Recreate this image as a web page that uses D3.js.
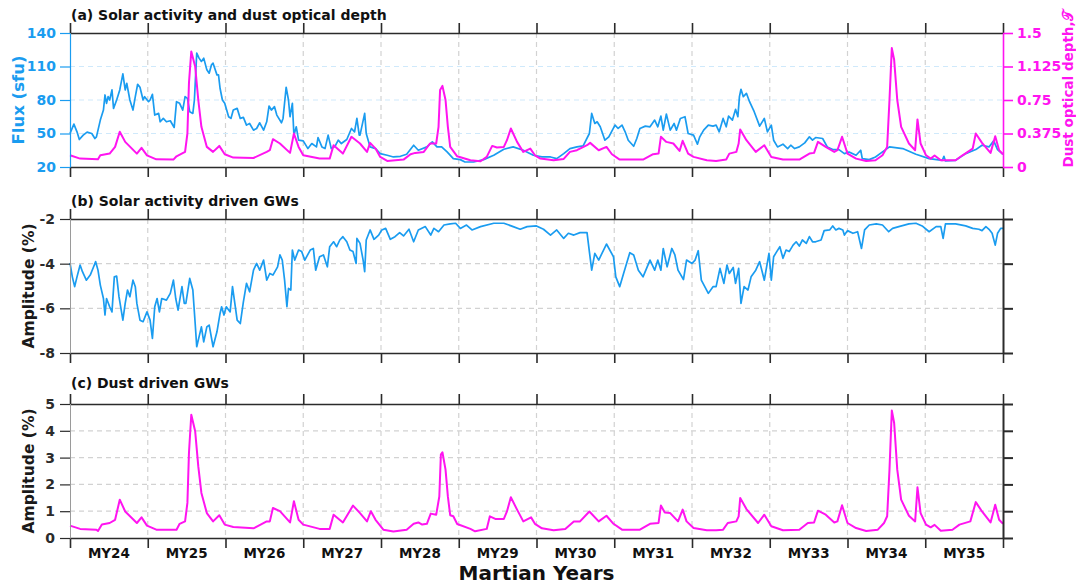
<!DOCTYPE html>
<html>
<head>
<meta charset="utf-8">
<script src="https://cdn.jsdelivr.net/npm/d3@7/dist/d3.min.js"></script>
<style>
  html, body { margin: 0; padding: 0; background: #fff; }
  svg { display: block; font-family: "DejaVu Sans", sans-serif; }
</style>
</head>
<body>
<script>
// ---- Data: [Martian Year, value] ----
const fluxSeries = [
  [24.00,50],[24.05,58.4],[24.09,51.5],[24.12,44.6],[24.17,48.5],[24.22,51.2],[24.28,50],[24.32,45.5],[24.34,47],
  [24.39,62],[24.43,71],[24.45,84.5],[24.47,77],[24.49,83],[24.51,80],[24.54,89],[24.56,72.5],[24.60,80],[24.64,89],
  [24.68,103.4],[24.71,89],[24.73,95],[24.77,80],[24.81,71],[24.84,83],[24.87,94.1],[24.90,91.4],[24.94,80],[24.96,83],
  [25.01,78.5],[25.03,80],[25.06,85.1],[25.09,66.5],[25.14,68],[25.16,60.5],[25.20,63.5],[25.24,60.5],[25.29,61.4],
  [25.34,55.4],[25.37,78.5],[25.41,77],[25.45,71],[25.48,83],[25.51,81.5],[25.54,69.5],[25.58,68],[25.60,80],
  [25.63,122],[25.66,117.5],[25.69,114.5],[25.72,117.5],[25.76,107],[25.79,104],[25.82,111.5],[25.84,113],
  [25.89,102.5],[25.91,102.5],[25.93,90.5],[25.96,80],[25.99,77],[26.04,65],[26.07,63.5],[26.10,71],[26.15,72.5],
  [26.19,63.5],[26.23,64.4],[26.27,57.5],[26.31,59],[26.36,53],[26.40,54.5],[26.44,59.6],[26.49,53],[26.53,60.5],
  [26.56,74.6],[26.59,71],[26.63,74],[26.66,66.5],[26.72,59.6],[26.74,63.5],[26.78,91.4],[26.81,80],[26.83,65],
  [26.86,77],[26.88,48.5],[26.91,56],[26.94,44],[27.00,43.4],[27.06,36.5],[27.11,41],[27.17,38],[27.19,46.4],
  [27.24,38],[27.28,36.5],[27.32,48.5],[27.36,36.5],[27.41,38.6],[27.45,44],[27.49,41],[27.56,44.6],[27.62,54.5],
  [27.66,51.5],[27.69,63.5],[27.72,48.5],[27.73,48.5],[27.79,68],[27.81,50],[27.86,38],[27.93,36.5],[27.99,32],
  [28.08,30.5],[28.16,29],[28.25,29.6],[28.33,31.4],[28.42,39.5],[28.48,35],[28.59,38],[28.66,42.5],[28.72,38],
  [28.78,38],[28.85,33.5],[28.93,27.5],[29.02,26.6],[29.08,24.5],[29.19,24.5],[29.32,26.6],[29.45,30.5],[29.58,35.9],
  [29.70,38],[29.83,35],[29.96,30.5],[30.07,29],[30.18,29],[30.26,27.5],[30.35,32],[30.43,36.5],[30.52,38],
  [30.60,38.9],[30.68,50],[30.71,68],[30.75,59],[30.78,60.5],[30.82,56],[30.88,44],[30.93,47],[31.01,57.5],
  [31.05,54.5],[31.10,57.5],[31.14,51.5],[31.18,44],[31.25,38.6],[31.29,45.5],[31.33,54.5],[31.40,56.6],[31.46,56],
  [31.52,62],[31.56,56],[31.60,65.6],[31.63,53],[31.67,67.4],[31.72,53],[31.77,59],[31.80,53],[31.85,63.5],
  [31.91,65],[31.95,50],[32.02,48.5],[32.07,40.4],[32.10,47],[32.15,53],[32.21,57.5],[32.27,56.6],[32.31,57.5],
  [32.35,51.5],[32.40,63.5],[32.44,56],[32.47,65.6],[32.52,62],[32.56,71.6],[32.59,65],[32.61,83],[32.63,89.6],
  [32.66,83],[32.70,86],[32.74,78.5],[32.80,69.5],[32.87,56.6],[32.93,63.5],[32.97,51.5],[33.02,57.5],[33.05,44],
  [33.10,38],[33.17,40.4],[33.23,36.5],[33.27,39.5],[33.32,36.5],[33.38,38],[33.45,41.6],[33.51,47],[33.55,44],
  [33.59,46.4],[33.68,45.5],[33.74,38],[33.81,35.6],[33.89,35.6],[33.96,32],[34.02,33.5],[34.11,30.5],[34.17,35],
  [34.19,27.5],[34.28,26.6],[34.36,29],[34.45,33.5],[34.54,38],[34.71,36.5],[34.88,31.4],[35.05,27.5],[35.22,26],
  [35.24,29.6],[35.26,25.4],[35.39,26],[35.52,32],[35.65,35.6],[35.73,39.5],[35.82,38],[35.88,43.4],[35.93,35.6],
  [36.00,31.4]
];

const tauSeries = [
  [24.00,0.131],[24.13,0.094],[24.36,0.086],[24.39,0.131],[24.51,0.15],[24.58,0.225],[24.64,0.394],[24.71,0.281],
  [24.86,0.15],[24.92,0.214],[24.99,0.131],[25.11,0.086],[25.33,0.083],[25.37,0.12],[25.48,0.169],[25.51,0.375],
  [25.53,0.94],[25.56,1.294],[25.61,1.125],[25.65,0.75],[25.69,0.45],[25.76,0.225],[25.84,0.169],[25.92,0.236],
  [25.99,0.143],[26.10,0.105],[26.36,0.101],[26.53,0.169],[26.57,0.188],[26.61,0.311],[26.70,0.263],[26.83,0.158],
  [26.88,0.375],[26.94,0.225],[27.00,0.131],[27.21,0.094],[27.34,0.094],[27.39,0.244],[27.51,0.15],[27.62,0.338],
  [27.73,0.263],[27.82,0.169],[27.86,0.27],[27.93,0.206],[27.99,0.113],[28.08,0.068],[28.29,0.083],[28.38,0.143],
  [28.44,0.158],[28.55,0.169],[28.63,0.263],[28.71,0.263],[28.74,0.45],[28.76,0.863],[28.79,0.908],[28.83,0.75],
  [28.86,0.45],[28.89,0.225],[28.98,0.12],[29.15,0.075],[29.28,0.064],[29.36,0.113],[29.43,0.236],[29.49,0.218],
  [29.58,0.225],[29.62,0.30],[29.67,0.431],[29.75,0.281],[29.83,0.169],[29.92,0.206],[29.98,0.131],[30.05,0.094],
  [30.22,0.075],[30.35,0.09],[30.43,0.169],[30.52,0.188],[30.65,0.244],[30.69,0.27],[30.80,0.188],[30.90,0.225],
  [30.97,0.143],[31.07,0.083],[31.37,0.083],[31.50,0.143],[31.57,0.15],[31.60,0.338],[31.67,0.281],[31.76,0.263],
  [31.84,0.18],[31.88,0.293],[31.95,0.15],[32.02,0.113],[32.19,0.075],[32.31,0.068],[32.44,0.083],[32.48,0.15],
  [32.57,0.169],[32.60,0.263],[32.62,0.42],[32.70,0.30],[32.82,0.169],[32.93,0.244],[33.02,0.113],[33.17,0.083],
  [33.38,0.083],[33.51,0.15],[33.57,0.158],[33.62,0.281],[33.72,0.225],[33.83,0.169],[33.87,0.188],[33.93,0.338],
  [34.00,0.15],[34.11,0.094],[34.24,0.068],[34.36,0.075],[34.45,0.131],[34.51,0.225],[34.54,0.75],[34.57,1.331],
  [34.60,1.2],[34.64,0.75],[34.69,0.45],[34.79,0.263],[34.87,0.188],[34.90,0.533],[34.94,0.263],[35.01,0.131],
  [35.07,0.094],[35.12,0.128],[35.20,0.075],[35.39,0.075],[35.48,0.131],[35.61,0.206],[35.65,0.375],[35.73,0.27],
  [35.84,0.158],[35.90,0.345],[35.95,0.188],[36.00,0.143]
];

const solarGwSeries = [
  [24.00,-3.96],[24.03,-4.59],[24.06,-5.03],[24.09,-4.59],[24.13,-4.06],[24.16,-4.36],[24.21,-4.74],[24.26,-4.51],
  [24.30,-4.17],[24.33,-3.91],[24.36,-4.29],[24.39,-4.96],[24.43,-5.56],[24.45,-6.30],[24.47,-5.56],[24.51,-5.93],
  [24.54,-6.16],[24.57,-4.59],[24.60,-4.56],[24.63,-5.48],[24.68,-6.53],[24.71,-5.78],[24.74,-5.18],[24.77,-5.48],
  [24.81,-4.74],[24.84,-5.03],[24.86,-5.78],[24.90,-6.53],[24.94,-6.60],[24.99,-6.16],[25.03,-6.53],[25.06,-7.35],
  [25.09,-5.93],[25.12,-5.56],[25.15,-6.16],[25.18,-5.56],[25.24,-5.63],[25.29,-5.33],[25.33,-4.74],[25.36,-5.56],
  [25.39,-6.08],[25.44,-5.03],[25.47,-5.78],[25.49,-5.78],[25.54,-4.66],[25.58,-5.18],[25.61,-6.68],[25.63,-7.72],
  [25.66,-7.28],[25.69,-6.83],[25.72,-7.50],[25.76,-6.83],[25.79,-6.75],[25.84,-7.72],[25.89,-7.05],[25.93,-6.23],
  [25.95,-5.93],[25.98,-6.30],[26.01,-5.93],[26.06,-6.16],[26.09,-5.03],[26.12,-5.78],[26.15,-6.53],[26.19,-6.68],
  [26.23,-5.71],[26.27,-4.88],[26.31,-5.26],[26.36,-4.29],[26.40,-3.99],[26.44,-4.29],[26.49,-3.84],[26.53,-4.74],
  [26.57,-4.44],[26.61,-4.51],[26.67,-4.14],[26.70,-3.61],[26.73,-3.84],[26.76,-4.74],[26.79,-5.93],[26.81,-5.11],
  [26.84,-5.18],[26.86,-3.39],[26.89,-3.84],[26.94,-3.39],[26.98,-3.46],[27.02,-3.84],[27.09,-3.39],[27.13,-3.32],
  [27.16,-4.29],[27.21,-3.69],[27.26,-3.61],[27.31,-4.14],[27.34,-3.24],[27.39,-3.02],[27.43,-3.24],[27.47,-2.94],
  [27.51,-2.79],[27.56,-3.02],[27.60,-3.39],[27.64,-3.46],[27.68,-3.99],[27.69,-2.87],[27.73,-3.09],[27.77,-3.84],
  [27.79,-4.36],[27.81,-2.94],[27.86,-2.49],[27.91,-2.91],[27.97,-2.72],[28.01,-2.49],[28.06,-2.42],[28.12,-2.91],
  [28.18,-2.79],[28.24,-2.61],[28.29,-2.76],[28.36,-2.46],[28.42,-3.02],[28.48,-2.49],[28.57,-2.34],[28.64,-2.72],
  [28.68,-2.42],[28.74,-2.57],[28.81,-2.27],[28.89,-2.22],[28.96,-2.19],[29.02,-2.42],[29.10,-2.27],[29.17,-2.49],
  [29.28,-2.34],[29.45,-2.19],[29.58,-2.19],[29.70,-2.34],[29.79,-2.46],[29.88,-2.34],[30.00,-2.31],[30.09,-2.46],
  [30.18,-2.72],[30.26,-2.49],[30.35,-2.87],[30.41,-2.64],[30.48,-2.72],[30.56,-2.61],[30.65,-2.61],[30.68,-3.46],
  [30.71,-4.29],[30.75,-3.54],[30.80,-3.84],[30.90,-3.12],[30.99,-3.69],[31.02,-4.59],[31.07,-5.03],[31.12,-4.44],
  [31.20,-3.51],[31.25,-3.61],[31.31,-4.29],[31.37,-4.59],[31.46,-3.84],[31.52,-4.29],[31.56,-3.84],[31.60,-4.29],
  [31.63,-3.32],[31.68,-4.14],[31.74,-3.32],[31.78,-3.61],[31.82,-4.29],[31.89,-4.71],[31.93,-3.84],[32.00,-3.99],
  [32.04,-3.84],[32.08,-3.42],[32.12,-4.74],[32.21,-5.33],[32.27,-5.03],[32.31,-5.03],[32.36,-4.21],[32.41,-4.88],
  [32.45,-4.06],[32.48,-4.44],[32.53,-4.17],[32.56,-4.88],[32.60,-4.21],[32.63,-5.78],[32.67,-5.03],[32.72,-5.18],
  [32.76,-4.59],[32.82,-4.29],[32.87,-3.91],[32.93,-4.74],[32.99,-3.54],[33.02,-4.74],[33.05,-3.69],[33.09,-3.46],
  [33.13,-3.24],[33.17,-3.76],[33.21,-3.39],[33.25,-3.46],[33.30,-3.17],[33.34,-3.02],[33.38,-3.21],[33.42,-2.94],
  [33.47,-3.09],[33.51,-2.79],[33.55,-3.02],[33.59,-3.02],[33.66,-2.94],[33.70,-2.52],[33.77,-2.49],[33.81,-2.31],
  [33.85,-2.49],[33.89,-2.42],[33.94,-2.49],[33.96,-2.72],[34.00,-2.52],[34.07,-2.64],[34.13,-2.57],[34.18,-3.32],
  [34.22,-2.49],[34.28,-2.27],[34.37,-2.22],[34.45,-2.27],[34.53,-2.57],[34.58,-2.42],[34.66,-2.34],[34.79,-2.22],
  [34.88,-2.19],[34.96,-2.31],[35.05,-2.57],[35.14,-2.34],[35.20,-2.34],[35.23,-2.87],[35.26,-2.22],[35.39,-2.22],
  [35.52,-2.31],[35.61,-2.42],[35.69,-2.46],[35.73,-2.52],[35.78,-2.34],[35.82,-2.46],[35.86,-2.64],[35.90,-3.17],
  [35.93,-2.64],[35.97,-2.42],[36.00,-2.42]
];

const dustGwSeries = [
  [24.00,0.46],[24.13,0.34],[24.34,0.31],[24.36,0.26],[24.41,0.50],[24.51,0.56],[24.58,0.68],[24.64,1.43],
  [24.71,0.99],[24.86,0.56],[24.92,0.77],[24.99,0.46],[25.11,0.31],[25.33,0.31],[25.37,0.31],[25.41,0.53],
  [25.48,0.62],[25.51,1.31],[25.53,3.17],[25.56,4.60],[25.61,3.98],[25.65,2.67],[25.69,1.68],[25.76,0.93],
  [25.84,0.62],[25.92,0.85],[25.99,0.50],[26.10,0.41],[26.36,0.36],[26.53,0.62],[26.57,0.62],[26.61,1.12],
  [26.70,1.00],[26.83,0.58],[26.88,1.37],[26.94,0.68],[27.00,0.50],[27.21,0.34],[27.34,0.34],[27.39,0.87],
  [27.51,0.58],[27.64,1.21],[27.73,0.93],[27.82,0.62],[27.87,1.00],[27.93,0.68],[28.03,0.31],[28.16,0.24],
  [28.33,0.31],[28.42,0.53],[28.48,0.58],[28.53,0.50],[28.59,0.53],[28.64,0.91],[28.71,0.87],[28.75,1.55],
  [28.77,3.11],[28.79,3.20],[28.83,2.55],[28.86,1.55],[28.89,0.85],[28.93,0.81],[28.98,0.52],[29.15,0.34],
  [29.21,0.25],[29.36,0.34],[29.40,0.81],[29.47,0.71],[29.58,0.71],[29.62,0.99],[29.67,1.52],[29.75,1.06],
  [29.83,0.62],[29.93,0.77],[29.98,0.53],[30.07,0.36],[30.22,0.29],[30.37,0.34],[30.48,0.62],[30.56,0.62],
  [30.68,0.99],[30.80,0.62],[30.90,0.83],[30.99,0.53],[31.10,0.31],[31.33,0.31],[31.46,0.53],[31.57,0.56],
  [31.60,1.21],[31.65,0.95],[31.72,0.93],[31.82,0.62],[31.88,1.06],[31.93,0.62],[32.02,0.37],[32.19,0.29],
  [32.31,0.29],[32.40,0.31],[32.46,0.56],[32.57,0.62],[32.60,0.81],[32.62,1.49],[32.70,1.08],[32.85,0.56],
  [32.93,0.87],[33.02,0.44],[33.17,0.29],[33.38,0.31],[33.49,0.56],[33.57,0.58],[33.62,1.02],[33.72,0.87],
  [33.83,0.58],[33.87,0.62],[33.93,1.22],[34.00,0.56],[34.11,0.37],[34.24,0.26],[34.39,0.31],[34.47,0.56],
  [34.51,0.81],[34.54,2.55],[34.57,4.76],[34.60,4.29],[34.64,2.55],[34.69,1.43],[34.79,0.83],[34.87,0.62],
  [34.90,1.89],[34.94,0.93],[35.01,0.50],[35.07,0.40],[35.12,0.49],[35.20,0.27],[35.35,0.31],[35.44,0.50],
  [35.58,0.62],[35.65,1.34],[35.73,0.99],[35.84,0.58],[35.90,1.24],[35.95,0.68],[36.00,0.53]
];

// ---- Axis ticks and labels ----
const yearTicks = [24, 25, 26, 27, 28, 29, 30, 31, 32, 33, 34, 35, 36];
const yearLabels = ["MY24","MY25","MY26","MY27","MY28","MY29","MY30","MY31","MY32","MY33","MY34","MY35"];
const fluxTicks = [20, 50, 80, 110, 140];
const tauTicks = [0, 0.375, 0.75, 1.125, 1.5];
const solarGwTicks = [-2, -4, -6, -8];
const dustGwTicks = [0, 1, 2, 3, 4, 5];

// ---- Styles ----
const BLUE = "#1a9cf0";
const MAGENTA = "#ff14f0";
const FRAME = "#2b2b2b";
const GRID = "#d2d2d2";
const GRID_BLUE = "#cfe9fb";
const FONT = "'DejaVu Sans', sans-serif";

const W = 1076, H = 584;
const LEFT = 70, RIGHT = 1003, TICK = 10;

const svg = d3.select("body").append("svg").attr("width", W).attr("height", H);
const x = d3.scaleLinear().domain([24, 36]).range([LEFT, RIGHT]);

function styleAxis(g, color, width) {
  g.select(".domain").attr("stroke", color).attr("stroke-width", width);
  g.selectAll(".tick line").attr("stroke", color).attr("stroke-width", width);
  g.selectAll(".tick text")
    .attr("fill", color)
    .attr("font-family", FONT)
    .attr("font-weight", "bold")
    .attr("font-size", 14);
}

function drawPanel(opts) {
  const { top, bottom, yDomain, hGrid, hGridColor, title, titleY } = opts;
  const y = d3.scaleLinear().domain(yDomain).range([bottom, top]);
  const g = svg.append("g");

  // vertical year gridlines
  g.append("g").selectAll("line")
    .data(yearTicks.slice(1, -1))
    .join("line")
    .attr("x1", d => x(d)).attr("x2", d => x(d))
    .attr("y1", top).attr("y2", bottom)
    .attr("stroke", GRID).attr("stroke-width", 1.2)
    .attr("stroke-dasharray", "5,4");

  // horizontal gridlines
  g.append("g").selectAll("line")
    .data(hGrid)
    .join("line")
    .attr("x1", LEFT).attr("x2", RIGHT)
    .attr("y1", d => y(d)).attr("y2", d => y(d))
    .attr("stroke", hGridColor).attr("stroke-width", 1.2)
    .attr("stroke-dasharray", "5,4");

  // panel title
  svg.append("text")
    .attr("x", LEFT + 1).attr("y", titleY)
    .attr("font-family", FONT).attr("font-weight", "bold").attr("font-size", 14)
    .attr("fill", "#111")
    .text(title);

  return { g, y };
}

function drawFrame(top, bottom) {
  const bx = svg.append("g").attr("transform", `translate(0,${bottom})`)
    .call(d3.axisBottom(x).tickValues(yearTicks).tickSize(TICK).tickSizeOuter(0).tickFormat(""));
  styleAxis(bx, FRAME, 1.6);
  const tx = svg.append("g").attr("transform", `translate(0,${top})`)
    .call(d3.axisTop(x).tickValues(yearTicks).tickSize(TICK).tickSizeOuter(0).tickFormat(""));
  styleAxis(tx, FRAME, 1.6);
}

const line = (xs, ys) => d3.line().x(d => xs(d[0])).y(d => ys(d[1]));

function yTitle(text, cx, cy, color, size) {
  svg.append("text")
    .attr("transform", `translate(${cx},${cy}) rotate(-90)`)
    .attr("text-anchor", "middle")
    .attr("dominant-baseline", "central")
    .attr("font-family", FONT).attr("font-weight", "bold").attr("font-size", size)
    .attr("fill", color).text(text);
}

// ---------- Panel (a) ----------
{
  const top = 33, bottom = 167;
  const { g, y } = drawPanel({
    top, bottom, yDomain: [20, 140],
    hGrid: [50, 80, 110], hGridColor: GRID_BLUE,
    title: "(a) Solar activity and dust optical depth", titleY: 20
  });
  const yTau = d3.scaleLinear().domain([0, 1.5]).range([bottom, top]);

  g.append("path").datum(fluxSeries)
    .attr("d", line(x, y)).attr("fill", "none")
    .attr("stroke", BLUE).attr("stroke-width", 1.7).attr("stroke-linejoin", "round");
  g.append("path").datum(tauSeries)
    .attr("d", line(x, yTau)).attr("fill", "none")
    .attr("stroke", MAGENTA).attr("stroke-width", 2).attr("stroke-linejoin", "round");

  drawFrame(top, bottom);

  const la = svg.append("g").attr("transform", `translate(${LEFT},0)`)
    .call(d3.axisLeft(y).tickValues(fluxTicks).tickSize(TICK).tickSizeOuter(0).tickPadding(4));
  styleAxis(la, BLUE, 1.2);

  const ra = svg.append("g").attr("transform", `translate(${RIGHT},0)`)
    .call(d3.axisRight(yTau).tickValues(tauTicks).tickSize(TICK).tickSizeOuter(0).tickPadding(4)
      .tickFormat(d => String(d)));
  styleAxis(ra, MAGENTA, 1.6);

  yTitle("Flux (sfu)", 18, (top + bottom) / 2, BLUE, 16.5);
  yTitle("Dust optical depth,\u{1D4AF}", 1068, (top + bottom) / 2 - 11, MAGENTA, 13.5);
}

// ---------- Panel (b) ----------
{
  const top = 219, bottom = 353;
  const { g, y } = drawPanel({
    top, bottom, yDomain: [-8, -2],
    hGrid: [-4, -6], hGridColor: GRID,
    title: "(b) Solar activity driven GWs", titleY: 206
  });
  g.append("path").datum(solarGwSeries)
    .attr("d", line(x, y)).attr("fill", "none")
    .attr("stroke", BLUE).attr("stroke-width", 1.7).attr("stroke-linejoin", "round");

  drawFrame(top, bottom);
  const la = svg.append("g").attr("transform", `translate(${LEFT},0)`)
    .call(d3.axisLeft(y).tickValues(solarGwTicks).tickSize(TICK).tickSizeOuter(0).tickPadding(5)
      .tickFormat(d => String(d)));
  styleAxis(la, FRAME, 1.2);
  la.select(".domain").attr("stroke", "#9a9a9a").attr("stroke-width", 1);
  const ra = svg.append("g").attr("transform", `translate(${RIGHT},0)`)
    .call(d3.axisRight(y).tickValues(solarGwTicks).tickSize(TICK).tickSizeOuter(0).tickFormat(""));
  styleAxis(ra, FRAME, 2);

  yTitle("Amplitude (%)", 29, (top + bottom) / 2, "#1a1a1a", 15.5);
}

// ---------- Panel (c) ----------
{
  const top = 404, bottom = 538;
  const { g, y } = drawPanel({
    top, bottom, yDomain: [0, 5],
    hGrid: [1, 2, 3, 4], hGridColor: GRID,
    title: "(c) Dust driven GWs", titleY: 388
  });
  g.append("path").datum(dustGwSeries)
    .attr("d", line(x, y)).attr("fill", "none")
    .attr("stroke", MAGENTA).attr("stroke-width", 2).attr("stroke-linejoin", "round");

  drawFrame(top, bottom);
  const la = svg.append("g").attr("transform", `translate(${LEFT},0)`)
    .call(d3.axisLeft(y).tickValues(dustGwTicks).tickSize(TICK).tickSizeOuter(0).tickPadding(5)
      .tickFormat(d => String(d)));
  styleAxis(la, FRAME, 1.2);
  la.select(".domain").attr("stroke", "#9a9a9a").attr("stroke-width", 1);
  const ra = svg.append("g").attr("transform", `translate(${RIGHT},0)`)
    .call(d3.axisRight(y).tickValues(dustGwTicks).tickSize(TICK).tickSizeOuter(0).tickFormat(""));
  styleAxis(ra, FRAME, 2);

  yTitle("Amplitude (%)", 29, (top + bottom) / 2, "#1a1a1a", 15.5);

  // Martian year labels, centred within each year
  svg.append("g").selectAll("text")
    .data(yearLabels)
    .join("text")
    .attr("x", (d, i) => x(yearTicks[i] + 0.5))
    .attr("y", 558)
    .attr("text-anchor", "middle")
    .attr("font-family", FONT).attr("font-weight", "bold").attr("font-size", 13.5)
    .attr("fill", "#111")
    .text(d => d);

  svg.append("text")
    .attr("x", (LEFT + RIGHT) / 2).attr("y", 580)
    .attr("text-anchor", "middle")
    .attr("font-family", FONT).attr("font-weight", "bold").attr("font-size", 20)
    .attr("fill", "#111")
    .text("Martian Years");
}
</script>
</body>
</html>
